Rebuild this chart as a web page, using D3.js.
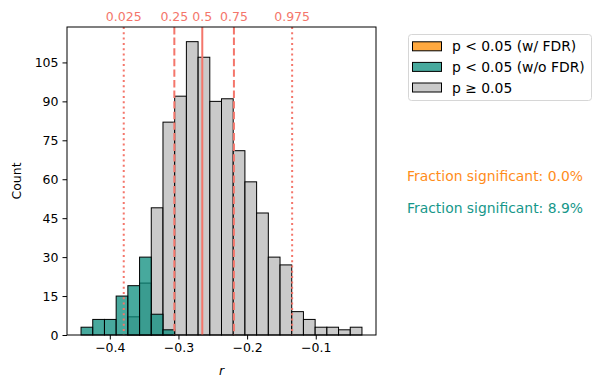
<!DOCTYPE html>
<html><head><meta charset="utf-8">
<script src="https://cdn.jsdelivr.net/npm/d3@7"></script>
<style>body{margin:0;background:#fff;} text{font-family:"DejaVu Sans",sans-serif;}</style>
</head><body><svg id="c" width="600" height="388"></svg>
<script>
// ---- data ----
const binStart = -0.4419, binWidth = 0.01705;
const nsCounts  = [0,0,0,0,7,20,49,82,92,113,107,90,91,71,59,47,30,27,9,6,3,3,2,3];
const sigCounts = [3,6,6,15,19,30,8,2,0,0,0,0,0,0,0,0,0,0,0,0,0,0,0,0];
const fdrCounts = [0,0,0,0,0,0,0,0,0,0,0,0,0,0,0,0,0,0,0,0,0,0,0,0];
const quantileLabels = ["0.025","0.25","0.5","0.75","0.975"];
const quantileValues = [-0.3797,-0.3060,-0.2653,-0.2192,-0.1344];
const quantileStyles = ["dotted","dashed","solid","dashed","dotted"];
const yTicks = [0,15,30,45,60,75,90,105];
const xTicks = [-0.4,-0.3,-0.2,-0.1];
const legendLabels = ["p < 0.05 (w/ FDR)","p < 0.05 (w/o FDR)","p \u2265 0.05"];
const fractionLabels = ["Fraction significant: 0.0%","Fraction significant: 8.9%"];

// ---- styles ----
const colFdr = "#ff8c00", colSig = "#0a8c7c", colNs = "#b8b8b8";
const txtFdr = "#ff8c1a", txtSig = "#16978a";
const qCol = "#f4766b";

const svg = d3.select("#c");
const L = 67, R = 376, T = 27, B = 335;
const nb = nsCounts.length;
const edges = d3.range(nb + 1).map(i => binStart + i * binWidth);
const lo = edges[0], hi = edges[nb], pad = (hi - lo) * 0.05;
const x = d3.scaleLinear().domain([lo - pad, hi + pad]).range([L, R]);
const ymax = d3.max(nsCounts.concat(sigCounts));
const y = d3.scaleLinear().domain([0, ymax * 1.05]).range([B, T]);

function drawBars(counts, color) {
  svg.append("g").selectAll("rect").data(counts.map((c, i) => ({c, i})).filter(d => d.c > 0))
    .join("rect")
    .attr("x", d => x(edges[d.i])).attr("width", d => x(edges[d.i + 1]) - x(edges[d.i]))
    .attr("y", d => y(d.c)).attr("height", d => y(0) - y(d.c))
    .attr("fill", color).attr("fill-opacity", 0.75)
    .attr("stroke", "#000").attr("stroke-width", 1);
}
drawBars(nsCounts, colNs);
drawBars(sigCounts, colSig);
drawBars(fdrCounts, colFdr);

// quantile lines
const dashMap = {solid: null, dashed: "7.4,3.2", dotted: "2,3.3"};
quantileValues.forEach((v, i) => {
  svg.append("line").attr("x1", x(v)).attr("x2", x(v)).attr("y1", T).attr("y2", B)
    .attr("stroke", qCol).attr("stroke-width", 2)
    .attr("stroke-dasharray", dashMap[quantileStyles[i]]);
  svg.append("text").attr("x", x(v)).attr("y", 21).attr("text-anchor", "middle")
    .attr("font-size", 12.5).attr("fill", qCol).text(quantileLabels[i]);
});

// axes
const fmt = d => (d < 0 ? "\u2212" : "") + Math.abs(d).toFixed(1);
const xa = svg.append("g").attr("transform", `translate(0,${B})`)
  .call(d3.axisBottom(x).tickValues(xTicks).tickFormat(fmt).tickSize(4.5).tickPadding(4));
const ya = svg.append("g").attr("transform", `translate(${L},0)`)
  .call(d3.axisLeft(y).tickValues(yTicks).tickSize(4.5).tickPadding(4));
[xa, ya].forEach(a => {
  a.select(".domain").remove();
  a.selectAll("text").attr("font-size", 12.5).attr("fill", "#000").attr("font-family", "DejaVu Sans");
  a.selectAll("line").attr("stroke", "#000");
});
svg.append("rect").attr("x", L).attr("y", T).attr("width", R - L).attr("height", B - T)
  .attr("fill", "none").attr("stroke", "#000").attr("stroke-width", 1);

svg.append("text").attr("x", (L + R) / 2).attr("y", 375).attr("text-anchor", "middle")
  .attr("font-size", 12.5).attr("font-style", "italic").text("r");
svg.append("text").attr("transform", `translate(21,${(T + B) / 2}) rotate(-90)`)
  .attr("text-anchor", "middle").attr("font-size", 12.5).text("Count");

// legend
const lg = svg.append("g");
lg.append("rect").attr("x", 408.5).attr("y", 34.5).attr("width", 183).attr("height", 66)
  .attr("rx", 3).attr("fill", "#fff").attr("fill-opacity", 0.8).attr("stroke", "#d6d6d6");
const legCols = [colFdr, colSig, colNs];
legendLabels.forEach((t, i) => {
  const cy = 46.3 + i * 20.6;
  lg.append("rect").attr("x", 412.5).attr("y", cy - 4.5).attr("width", 29).attr("height", 9)
    .attr("fill", legCols[i]).attr("fill-opacity", 0.75).attr("stroke", "#000").attr("stroke-width", 1);
  lg.append("text").attr("x", 452).attr("y", cy + 5).attr("font-size", 13.9).text(t);
});

// fraction texts
const fracCols = [txtFdr, txtSig];
fractionLabels.forEach((t, i) => {
  svg.append("text").attr("x", 407).attr("y", 181 + i * 32).attr("font-size", 13.9)
    .attr("fill", fracCols[i]).text(t);
});
</script></body></html>
